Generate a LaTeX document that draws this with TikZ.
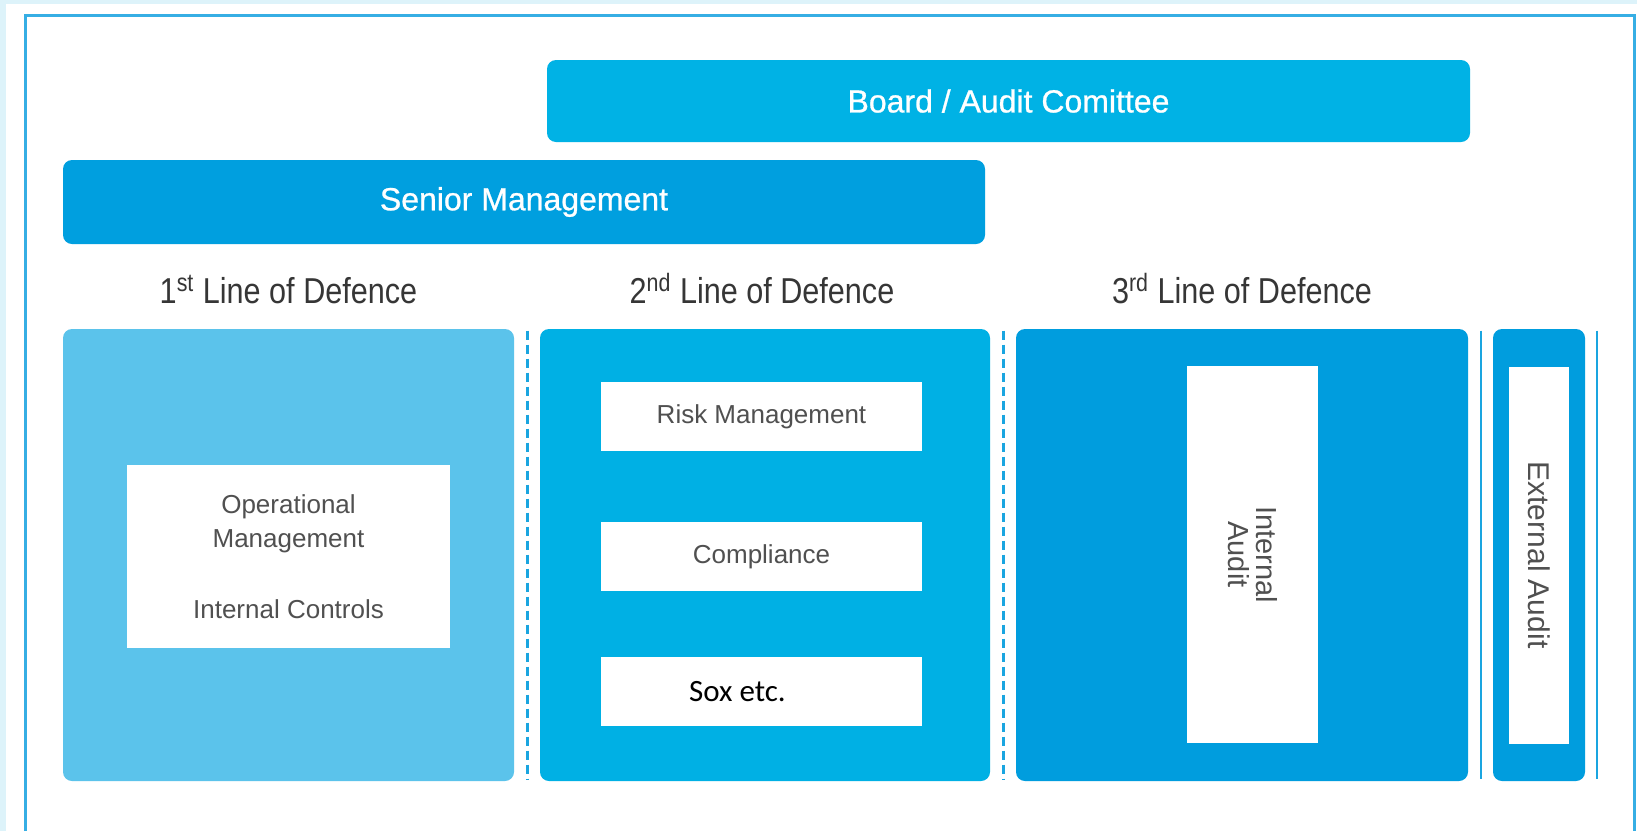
\documentclass[tikz,border=0pt]{standalone}
\usepackage{fontspec}
\setmainfont{Liberation Sans}
\newfontfamily\headfont[FakeStretch=0.85]{Liberation Sans}
\newfontfamily\barfont[FakeBold=0.8]{Liberation Sans}
\newfontfamily\soxfont{Carlito}
\usetikzlibrary{positioning,calc}

\definecolor{paleblue}{HTML}{DDF3FA}
\definecolor{frameblue}{HTML}{36AEE4}
\definecolor{boardblue}{HTML}{00B2E5}
\definecolor{seniorblue}{HTML}{009FDF}
\definecolor{lineone}{HTML}{5BC3EB}
\definecolor{linetwo}{HTML}{00B0E4}
\definecolor{linethree}{HTML}{009DDE}
\definecolor{sepblue}{HTML}{1AA5E0}
\definecolor{headgray}{HTML}{363636}
\definecolor{textgray}{HTML}{505050}

\begin{document}
\begin{tikzpicture}[
x=0.5pt, y=-0.5pt,
banner/.style={rounded corners=4.5pt, inner sep=0pt, text=white, font=\barfont\fontsize{16}{19}\selectfont},
lane/.style={rounded corners=4.5pt, inner sep=0pt, minimum height=226pt},
inbox/.style={fill=white, inner sep=0pt, align=center, text=textgray, font=\fontsize{13}{17}\selectfont},
heading/.style={inner sep=0pt, text=headgray, font=\headfont\fontsize{18}{20}\selectfont},
sep/.style={sepblue, line width=1.5pt, dash pattern=on 4.5pt off 2.5pt, shorten <=1pt, shorten >=1pt},
wall/.style={sepblue, line width=1pt, shorten <=1pt, shorten >=1pt}
]
\useasboundingbox (0,0) rectangle (1637,831);

% page background and frame
\fill[paleblue] (0,0) rectangle (1637,831);
\fill[white] (6,4) rectangle (1637,831);
\draw[frameblue, line width=1.5pt] (25.5,831) -- (25.5,15.5) -- (1634.5,15.5) -- (1634.5,831);

% governance bars
\node[banner, fill=boardblue, minimum width=461.5pt, minimum height=41pt] (board) at (1008.5,101) {Board / Audit Comittee};
\node[banner, fill=seniorblue, minimum width=461pt, minimum height=42pt] (senior) at (524,202) {Senior Management};

% the three lines plus external audit
\node[lane, fill=lineone, minimum width=225.5pt] (first) at (288.5,555) {};
\node[lane, fill=linetwo, minimum width=225pt] (second) at (765,555) {};
\node[lane, fill=linethree, minimum width=226pt] (third) at (1242,555) {};
\node[lane, fill=linethree, minimum width=46pt] (external) at (1539,555) {};

\node[heading, above=12pt of first] (head1) {1\textsuperscript{st} Line of Defence};
\node[heading, above=12pt of second, xshift=-1.5pt] (head2) {2\textsuperscript{nd} Line of Defence};
\node[heading, above=12pt of third] (head3) {3\textsuperscript{rd} Line of Defence};

% functions inside each line
\node[inbox, minimum width=161.5pt, minimum height=91.5pt] (opm) at (288.5,556.5) {Operational\\Management\\[18.5pt]Internal Controls};

\node[inbox, minimum width=160.5pt, minimum height=34.5pt] (comp) at (761.5,556.5) {Compliance};
\node[inbox, minimum width=160.5pt, minimum height=34.5pt, above=35pt of comp] (risk) {Risk Management};
\node[inbox, minimum width=160.5pt, minimum height=34.5pt, below=32.5pt of comp] (sox) {};
\node[inner sep=0pt, text=black, font=\soxfont\fontsize{15.5}{18}\selectfont] (soxtext) at ([xshift=-12pt]sox.center) {Sox etc.};

\node[inbox, rotate=-90, minimum width=188.5pt, minimum height=65.5pt, font=\fontsize{14.5}{14}\selectfont] (internal) at (1252.5,554.5) {Internal\\Audit};
\node[inbox, rotate=-90, minimum width=188.5pt, minimum height=30pt, font=\fontsize{15}{14}\selectfont] (extaudit) at (external.center) {External Audit};

% separators between the lines
\draw[sep] ($(first.north east)!.5!(second.north west)$) -- ($(first.south east)!.5!(second.south west)$);
\draw[sep] ($(second.north east)!.5!(third.north west)$) -- ($(second.south east)!.5!(third.south west)$);
\draw[wall] ($(third.north east)!.5!(external.north west)$) -- ($(third.south east)!.5!(external.south west)$);
\draw[wall] ([xshift=6pt]external.north east) -- ([xshift=6pt]external.south east);
\end{tikzpicture}
\end{document}
